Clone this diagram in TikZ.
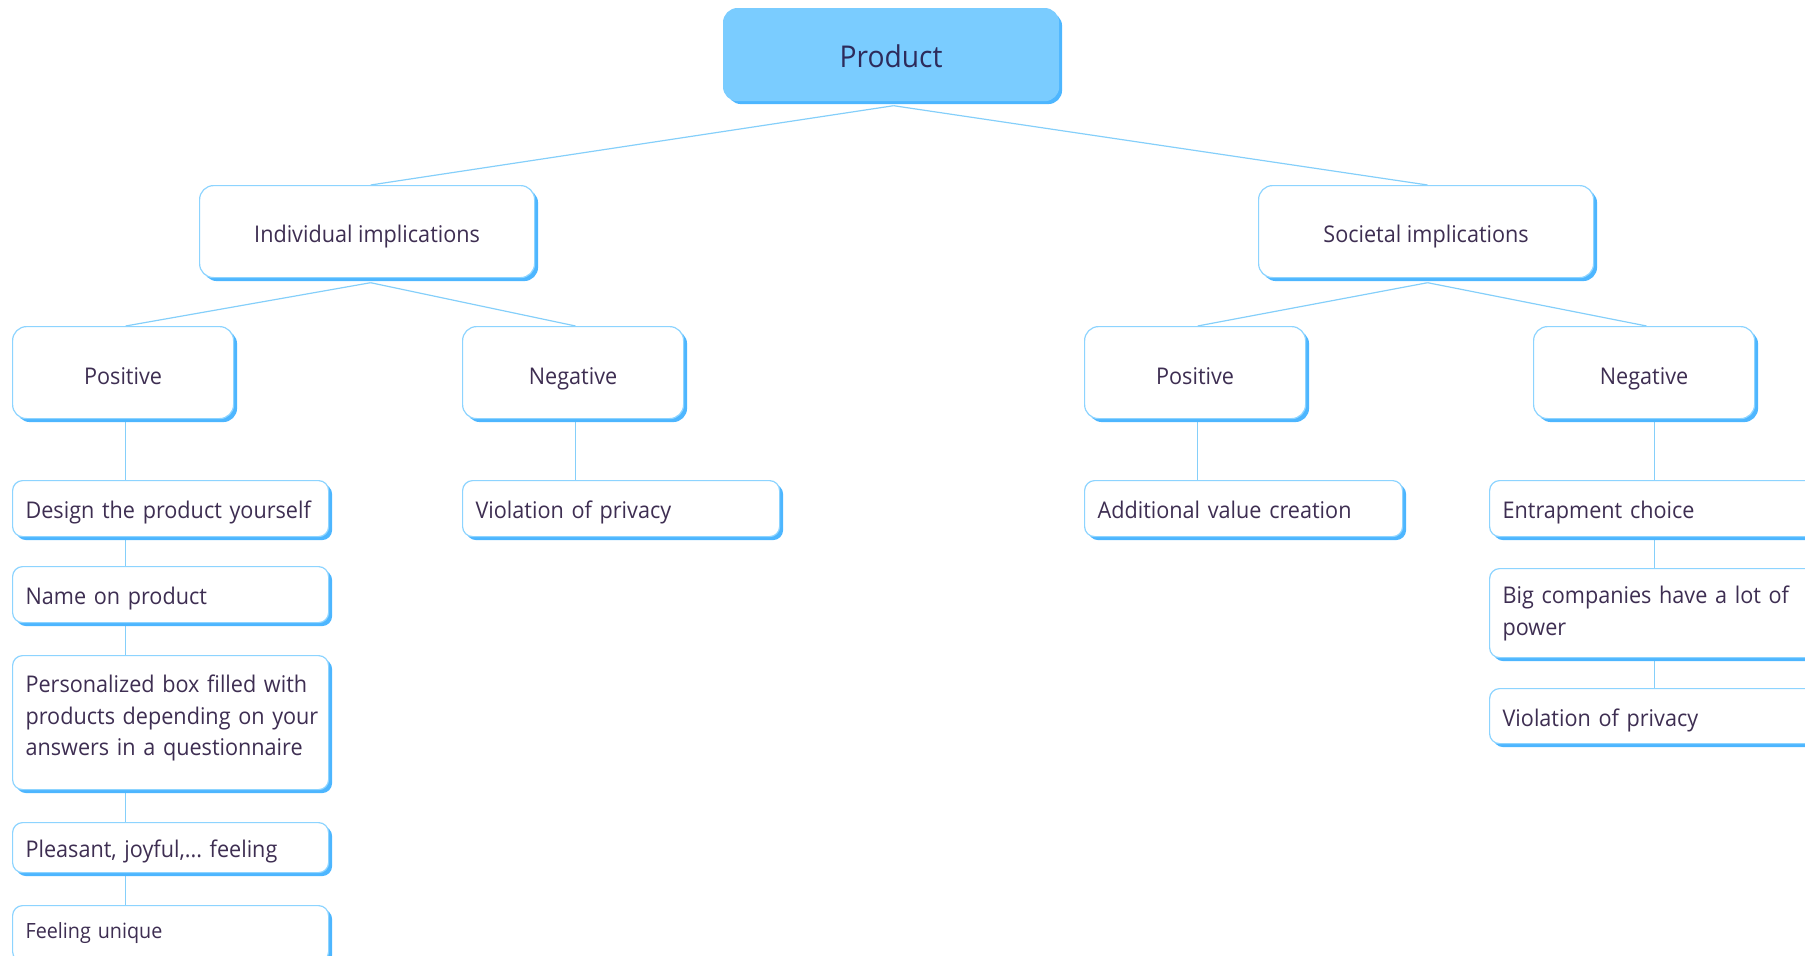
\documentclass[tikz,border=0pt]{standalone}
\usepackage{fontspec}
\setmainfont{Open Sans}[FakeStretch=0.94]
\usetikzlibrary{shadows,backgrounds,calc}

\definecolor{boxline}{HTML}{8DD4FF}
\definecolor{shade}{HTML}{4DB6FF}
\definecolor{rootfill}{HTML}{7ACCFF}
\definecolor{wire}{HTML}{85CFFA}
\definecolor{ink}{HTML}{3E2E52}
\definecolor{rootink}{HTML}{2D2B5B}

\tikzset{
  card/.style={draw=boxline, line width=1.2pt, fill=white, anchor=north west,
    inner sep=0pt, text=ink, align=center, text depth=0pt,
    copy shadow={shadow xshift=3.5pt, shadow yshift=-3.5pt, draw=none, fill=shade}},
  rootbox/.style={card, draw=rootfill, fill=rootfill, text=rootink, rounded corners=14pt,
    minimum width=335pt, minimum height=92pt, text height=25pt,
    font=\fontsize{30pt}{34pt}\selectfont},
  groupbox/.style={card, rounded corners=14pt, minimum width=335pt, minimum height=92pt,
    text height=21pt, font=\fontsize{23pt}{31.7pt}\selectfont},
  signbox/.style={card, rounded corners=14pt, minimum width=221pt, minimum height=92pt,
    text height=24pt, font=\fontsize{23pt}{31.7pt}\selectfont},
  leaf/.style={card, rounded corners=10pt, align=left, inner xsep=13pt,
    minimum width=#1, text width=#1-26pt, text height=20pt,
    font=\fontsize{23pt}{31.7pt}\selectfont\frenchspacing},
  leaf/.default=316pt,
  wireline/.style={draw=wire, line width=1.2pt}
}

\begin{document}
\begin{tikzpicture}[x=1pt, y=-1pt]
\useasboundingbox (0,0) rectangle (1805,956);
\clip (0,0) rectangle (1805,956);

% root and the two groups
\node[rootbox] (prod) at (723,8) {Product};
\node[groupbox] (ind) at (199,185) {Individual implications};
\node[groupbox] (soc) at (1258,185) {Societal implications};

% positive / negative headers
\node[signbox] (posL) at (12,326) {Positive};
\node[signbox] (negL) at (462,326) {Negative};
\node[signbox] (posR) at (1084,326) {Positive};
\node[signbox] (negR) at (1533,326) {Negative};

% individual, positive
\node[leaf, minimum height=56pt] (design) at (12,480) {\mbox{Design the product yourself}};
\node[leaf, minimum height=56pt] (name) at (12,566) {Name on product};
\node[leaf, minimum height=134pt, text depth=80.6pt] (pers) at (12,655)
  {\mbox{Personalized box filled with}\\\mbox{products depending on your}\\\mbox{answers in a questionnaire}};
\node[leaf, minimum height=50pt] (pleas) at (12,822) {\mbox{Pleasant, joyful,... feeling}};
\node[leaf, minimum height=56pt, text height=12pt, text depth=2pt,
  font=\fontsize{21pt}{28pt}\selectfont] (feel) at (12,905) {Feeling unique};

% individual, negative
\node[leaf=317pt, minimum height=56pt] (violL) at (462,480) {Violation of privacy};

% societal, positive
\node[leaf=318pt, minimum height=56pt] (addv) at (1084,480) {\mbox{Additional value creation}};

% societal, negative
\node[leaf=330pt, minimum height=56pt] (entr) at (1489,480) {Entrapment choice};
\node[leaf=330pt, minimum height=89pt, text depth=38.4pt] (big) at (1489,568)
  {\mbox{Big companies have a lot of}\\power};
\node[leaf=330pt, minimum height=55pt] (violR) at (1489,688) {Violation of privacy};

% fork points just below the shadows of the parent boxes
\coordinate (prodfork) at ([xshift=2.5pt, yshift=-4.5pt]prod.south);
\coordinate (indfork) at ([xshift=3.5pt, yshift=-4.5pt]ind.south);
\coordinate (socfork) at ([xshift=1.5pt, yshift=-4.5pt]soc.south);
\coordinate (colL) at ([xshift=2.5pt]posL.south);

\begin{pgfonlayer}{background}
  \draw[wireline] (prodfork) -- ([xshift=3.5pt]ind.north);
  \draw[wireline] (prodfork) -- ([xshift=1.5pt]soc.north);
  \draw[wireline] (indfork) -- ([xshift=2.5pt]posL.north);
  \draw[wireline] (indfork) -- ([xshift=2.5pt]negL.north);
  \draw[wireline] (socfork) -- ([xshift=2.5pt]posR.north);
  \draw[wireline] (socfork) -- ([xshift=2.5pt]negR.north);

  \draw[wireline] (colL) -- (colL |- design.north);
  \draw[wireline] (colL |- design.south) -- (colL |- name.north);
  \draw[wireline] (colL |- name.south) -- (colL |- pers.north);
  \draw[wireline] (colL |- pers.south) -- (colL |- pleas.north);
  \draw[wireline] (colL |- pleas.south) -- (colL |- feel.north);

  \draw[wireline] ([xshift=2.5pt]negL.south) -- ([xshift=2.5pt]negL.south |- violL.north);
  \draw[wireline] ([xshift=2.5pt]posR.south) -- ([xshift=2.5pt]posR.south |- addv.north);

  \draw[wireline] (negR.south -| entr.north) -- (entr.north);
  \draw[wireline] (entr.south) -- (big.north);
  \draw[wireline] (big.south) -- (violR.north);
\end{pgfonlayer}
\end{tikzpicture}
\end{document}
